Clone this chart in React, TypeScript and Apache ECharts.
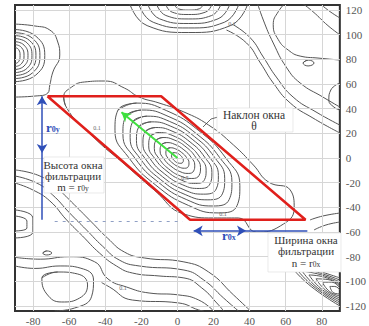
import React, { useEffect, useRef } from "react";
import * as echarts from "echarts";

const xTicks = [-80, -60, -40, -20, 0, 20, 40, 60, 80];
const yTicks = [-120, -100, -80, -60, -40, -20, 0, 20, 40, 60, 80, 100, 120];
const xRange = [-90, 90];
const yRange = [-124, 124];

// central nested contours (closed: last two points repeat the first two)
const ring1 = [[-3.0,3.5],[-1.9,4.3],[-0.3,4.0],[1.4,2.5],[2.7,0.4],[3.3,-1.8],[3.0,-3.5],[1.9,-4.3],[0.3,-4.0],[-1.4,-2.5],[-2.7,-0.4],[-3.3,1.8],[-3.0,3.5],[-1.9,4.3]];
const ring2 = [[-6.0,7.0],[-4.0,8.3],[-0.9,7.3],[2.4,4.4],[5.1,0.3],[6.4,-3.9],[6.0,-7.0],[4.0,-8.3],[0.9,-7.3],[-2.4,-4.4],[-5.1,-0.3],[-6.4,3.9],[-6.0,7.0],[-4.0,8.3]];
const ring3 = [[-9.0,10.5],[-6.0,12.5],[-1.4,11.0],[3.6,6.6],[7.6,0.5],[9.6,-5.8],[9.0,-10.5],[6.0,-12.5],[1.4,-11.0],[-3.6,-6.6],[-7.6,-0.5],[-9.6,5.8],[-9.0,10.5],[-6.0,12.5]];
const ring4 = [[-12.0,14.1],[-8.0,16.6],[-1.9,14.7],[4.8,8.9],[10.1,0.6],[12.8,-7.8],[12.0,-14.1],[8.0,-16.6],[1.9,-14.7],[-4.8,-8.9],[-10.1,-0.6],[-12.8,7.8],[-12.0,14.1],[-8.0,16.6]];
const ring5 = [[-15.0,17.6],[-10.1,20.6],[-2.5,18.1],[5.8,10.7],[12.5,0.5],[15.9,-9.9],[15.0,-17.6],[10.1,-20.6],[2.5,-18.1],[-5.8,-10.7],[-12.5,-0.5],[-15.9,9.9],[-15.0,17.6],[-10.1,20.6]];
const ring6 = [[-18.0,21.1],[-12.1,24.7],[-3.0,21.8],[7.0,13.0],[15.1,0.7],[19.1,-11.8],[18.0,-21.1],[12.1,-24.7],[3.0,-21.8],[-7.0,-13.0],[-15.1,-0.7],[-19.1,11.8],[-18.0,21.1],[-12.1,24.7]];
const ring7 = [[-21.5,25.1],[-14.5,29.3],[-3.6,25.7],[8.2,15.2],[17.8,0.6],[22.7,-14.2],[21.5,-25.1],[14.5,-29.3],[3.6,-25.7],[-8.2,-15.2],[-17.8,-0.6],[-22.7,14.2],[-21.5,25.1],[-14.5,29.3]];
const ring8 = [[-24.9,29.1],[-16.9,33.9],[-4.3,29.6],[9.4,17.4],[20.6,0.5],[26.2,-16.5],[24.9,-29.1],[16.9,-33.9],[4.3,-29.6],[-9.4,-17.4],[-20.6,-0.5],[-26.2,16.5],[-24.9,29.1],[-16.9,33.9]];
const ring9 = [[-28.7,33.6],[-19.6,38.9],[-5.2,33.8],[10.6,19.6],[23.5,0.2],[30.2,-19.3],[28.7,-33.6],[19.6,-38.9],[5.2,-33.8],[-10.6,-19.6],[-23.5,-0.2],[-30.2,19.3],[-28.7,33.6],[-19.6,38.9]];
const ring10 = [[-33.0,38.7],[-22.6,44.5],[-6.2,38.5],[11.9,22.1],[26.9,-0.2],[34.6,-22.4],[33.0,-38.7],[22.6,-44.5],[6.2,-38.5],[-11.9,-22.1],[-26.9,0.2],[-34.6,22.4],[-33.0,38.7],[-22.6,44.5]];
const outer01 = [[-61.9,42.1],[-63.0,49.4],[-58.6,57.5],[-51.5,61.6],[-40.5,62.4],[-29.4,56.7],[-21.2,49.4],[-10.2,44.6],[3.6,37.3],[17.3,26.7],[31.1,10.5],[42.1,-5.7],[50.4,-19.4],[62.5,-25.9],[64.7,-40.5],[57.0,-55.1],[43.8,-60.0],[33.8,-48.6],[20.1,-48.6],[3.6,-45.4],[-12.9,-25.9],[-29.4,-4.9],[-46.0,16.2],[-61.9,42.1],[-63.0,49.4]];

// upper-left nest
const topLeft1 = [[-90,89.5],[-88.0,87.9],[-87.2,83],[-88.0,78.1],[-90,76.5]];
const topLeft2 = [[-90,91.9],[-86.5,89.7],[-85.0,83],[-86.5,76.3],[-90,74.1]];
const topLeft3 = [[-90,94.3],[-85.0,91.5],[-82.8,83],[-85.0,74.5],[-90,71.7]];
const topLeft4 = [[-90,96.8],[-83.4,93.4],[-80.6,83],[-83.4,72.6],[-90,69.2]];
const topLeft5 = [[-90,99.2],[-81.9,95.2],[-78.4,83],[-81.9,70.8],[-90,66.8]];
const topLeft6 = [[-90,101.6],[-80.3,97.0],[-76.2,83],[-80.3,69.0],[-90,64.4]];
const topLeft7 = [[-90,104.1],[-78.5,98.8],[-73.5,83],[-78.5,67.2],[-90,61.9]];
const topLeftOuter = [[-90,108.5],[-79.0,107.0],[-70.7,103.7],[-66.3,94.0],[-65.2,83.5],[-69.0,69.7],[-70.7,59.2],[-71.8,52.7],[-79.0,50.2],[-90,49.4]];

// top-centre nest
const bowl0 = [[-2.0,126],[0.5,120.9],[6.3,119.9],[12.1,120.9],[14.6,126]];
const bowl1 = [[-6.9,126],[-2.9,118.2],[6.3,116.3],[15.5,118.2],[19.5,126]];
const bowl2 = [[-11.9,126],[-6.4,115.5],[6.3,112.7],[19.0,115.5],[24.5,126]];
const bowl3 = [[-16.8,126],[-9.9,112.8],[6.3,109.0],[22.5,112.8],[29.4,126]];
const bowl4 = [[-21.8,126],[-13.4,110.0],[6.3,105.4],[26.0,110.0],[34.4,126]];
const bowl5 = [[-26.7,126],[-16.8,107.3],[6.3,101.7],[29.4,107.3],[39.3,126]];

// upper-right band
const bandA = [[31.1,107.8],[40.5,97.2],[47.6,81.8],[54.8,65.6],[64.1,49.4],[76.8,37.3],[90,26.7]];
const bandB = [[27.2,103.7],[38.3,93.2],[46.0,77.0],[53.1,60.8],[62.5,44.6],[75.1,32.4],[90,20.3]];
const bandC = [[43.8,128],[47.6,111.8],[53.1,93.2],[60.3,73.7],[68.0,60.8],[80.6,49.4],[90,41.3]];
const tongue = [[61.4,128],[55.9,118.6],[53.1,108.1],[55.9,95.9],[61.4,87.5],[68.0,82.6],[77.9,81.0],[90,79.4]];
const bandE = [[66.9,128],[75.1,118.6],[83.4,107.3],[90,99.9]];
const bandF = [[76.8,128],[83.4,119.9],[90,113.5]];
const islet = [[69.6,77.0],[72.4,79.4],[75.7,77.0],[72.4,74.6],[69.6,77.0],[72.4,79.4]];
const rightLobe = [[90,60.8],[85.0,55.1],[83.9,47.0],[86.7,41.3],[90,38.9]];

// lower-right fan
const fan0 = [[90,-107.0],[87.2,-104.1],[84.5,-104.1],[86.7,-109.4],[90,-110.2]];
const fan1 = [[90,-105.3],[85.3,-100.6],[80.6,-101.1],[84.4,-108.3],[90,-111.8]];
const fan2 = [[90,-103.7],[83.4,-98.5],[76.8,-97.9],[82.1,-107.1],[90,-113.5]];
const fan3 = [[90,-102.1],[81.5,-96.6],[72.9,-94.8],[79.7,-106.0],[90,-115.1]];
const fan4 = [[90,-100.5],[79.5,-94.6],[69.1,-91.7],[77.4,-104.9],[90,-116.7]];
const fan5 = [[90,-98.9],[77.6,-92.6],[65.2,-88.6],[75.1,-103.7],[90,-118.3]];
const fan6 = [[90,-97.2],[75.7,-90.6],[61.4,-85.4],[72.8,-102.6],[90,-119.9]];
const sideG1 = [[73.5,-50.2],[80.6,-47.0],[90,-44.6]];
const sideG2 = [[75.7,-58.3],[82.3,-54.3],[90,-51.9]];

// lower-left band and basin
const band0 = [[-90,-9.7],[-76.2,-14.6],[-66.9,-24.3],[-57.0,-38.1],[-47.6,-51.9],[-38.8,-64.8],[-29.4,-76.2],[-18.4,-81.0],[3.6,-84.2],[17.3,-92.4],[31.1,-111.0],[40.5,-124]];
const band1 = [[-90,-14.6],[-77.9,-20.3],[-69.1,-30.0],[-59.7,-44.6],[-50.4,-58.3],[-41.6,-71.3],[-32.2,-82.7],[-21.2,-87.5],[3.6,-90.8],[14.6,-98.9],[25.6,-113.5],[33.8,-124]];
const band2 = [[-90,-20.3],[-80.1,-25.9],[-70.7,-34.8],[-61.4,-50.2],[-52.6,-63.2],[-43.2,-77.0],[-33.8,-87.5],[-25.0,-93.2],[-10.2,-95.6],[3.6,-97.2],[13.5,-105.3],[22.8,-119.1],[25.6,-124]];
const leftLobe1 = [[-90,-47.0],[-83.4,-51.1],[-83.4,-56.7],[-90,-59.1]];
const leftLobe2 = [[-90,-42.1],[-80.1,-48.6],[-80.1,-60.0],[-90,-64.8]];
const tinyLoop = [[-74.6,-77.0],[-72.4,-75.3],[-69.6,-77.0],[-72.4,-78.6],[-74.6,-77.0],[-72.4,-75.3]];
const basinU1 = [[-75.1,-97.2],[-66.3,-92.4],[-55.3,-94.0],[-49.8,-102.9],[-54.2,-113.5],[-64.1,-116.7],[-72.4,-110.2],[-75.1,-97.2],[-66.3,-92.4]];
const basinU2 = [[-90,-87.5],[-79,-89.5],[-65,-87.5],[-52,-90],[-46.5,-99],[-47.5,-112],[-57,-121.6],[-68,-124]];
const valleyM1 = [[-90,-80.5],[-76,-82],[-60,-80],[-46,-84],[-38.5,-98],[-28.3,-104.5],[-15.7,-109.4],[0.8,-111.0],[11.8,-115.1],[20.1,-124]];
const valleyM2 = [[-42,-101],[-37.7,-104.5],[-25.0,-115.1],[0.8,-117.5],[11.8,-123.2],[14.6,-124]];

const contours = [
  ring1, ring2, ring3, ring4, ring5, ring6, ring7, ring8, ring9, ring10, outer01,
  topLeft1, topLeft2, topLeft3, topLeft4, topLeft5, topLeft6, topLeft7, topLeftOuter,
  bowl0, bowl1, bowl2, bowl3, bowl4, bowl5,
  bandA, bandB, bandC, tongue, bandE, bandF, islet, rightLobe,
  fan0, fan1, fan2, fan3, fan4, fan5, fan6, sideG1, sideG2,
  band0, band1, band2, leftLobe1, leftLobe2, tinyLoop, basinU1, basinU2, valleyM1, valleyM2,
];

// filter window and its annotations
const windowShape = [[-72,50],[-9,50],[71,-50],[7,-50],[-72,50]];
const tiltArrow = [[0,0],[-31,37]];
const heightArrow = [[-75,4],[-75,50]];
const heightLine = [[-75,4],[-75,-50]];
const widthArrow = [[9,-59],[38,-59]];
const widthLine = [[38,-59],[72,-59]];
const baseLine = [[-68,-51],[3,-51]];

const SERIF = "'Liberation Serif', 'Times New Roman', serif";
const BLUE = "#2f4fb8";

export default function App() {
  const ref = useRef<HTMLDivElement>(null);
  useEffect(() => {
    const chart = echarts.init(ref.current!, null, { renderer: "svg" });
    const gridLine = { color: "#d6d6d6", width: 1, type: "solid" };
    const seg = (pts: number[][], color: string, width: number, s0: string, s1: string, type: any = "solid") => [
      { coord: pts[0], symbol: s0, symbolSize: [8, 9], lineStyle: { color, width, type } },
      { coord: pts[1], symbol: s1, symbolSize: [8, 9], lineStyle: { color, width, type } },
    ];
    const series: any[] = contours.map((d, i) => ({
      type: "line",
      data: d,
      smooth: 0.5,
      symbol: "none",
      silent: true,
      z: 2,
      lineStyle: { color: "#555", width: 1 },
      markLine: i === 0 ? {
        silent: true,
        symbol: ["none", "none"],
        label: { show: false },
        lineStyle: gridLine,
        data: [
          ...xTicks.map((v) => ({ xAxis: v })),
          ...yTicks.map((v) => ({ yAxis: v })),
        ],
      } : undefined,
    }));
    series.push({
      type: "line",
      data: windowShape,
      symbol: "none",
      silent: true,
      z: 5,
      lineStyle: { color: "#e0201c", width: 2.5 },
      markLine: {
        silent: true,
        label: { show: false },
        data: [
          seg(tiltArrow, "#3ee03e", 2, "none", "arrow"),
          seg(heightArrow, BLUE, 1.5, "arrow", "arrow"),
          seg(heightLine, BLUE, 1.5, "none", "none"),
          seg(widthArrow, BLUE, 1.5, "arrow", "arrow"),
          seg(widthLine, BLUE, 1.5, "none", "none"),
          seg(baseLine, "#8f9fc4", 1, "none", "none", [3, 5]),
        ],
      },
    });

    const txt = { fontFamily: SERIF, fontSize: 11, fill: "#333" };
    const box = (x: number, y: number, w: number, h: number) => ({
      type: "rect", z: 10, shape: { x, y, width: w, height: h },
      style: { fill: "#fff", stroke: "#dcdcdc", lineWidth: 0.6 },
    });
    const small = (x: number, y: number, t: string) => ({
      type: "text", z: 11, x, y,
      style: { text: t, fontFamily: SERIF, fontSize: 6, fill: "#666", align: "center", verticalAlign: "middle" },
    });
    const sub = { fontFamily: SERIF, fontSize: 7.5, fill: "#333", verticalAlign: "bottom" };
    const rr = { fontFamily: SERIF, fontSize: 13, fontWeight: "bold", fill: BLUE };
    const rs = { fontFamily: SERIF, fontSize: 8, fontWeight: "bold", fill: BLUE, verticalAlign: "bottom" };

    chart.setOption({
      animation: false,
      backgroundColor: "#fff",
      textStyle: { fontFamily: SERIF },
      grid: { left: 15, right: 27, top: 5, bottom: 15, show: true, borderColor: "#333", borderWidth: 2, backgroundColor: "transparent" },
      xAxis: {
        type: "value", min: xRange[0], max: xRange[1], interval: 10,
        axisLine: { show: false }, axisTick: { show: false }, splitLine: { show: false },
        axisLabel: {
          margin: 4, color: "#555", fontFamily: SERIF, fontSize: 11,
          formatter: (v: number) => (Math.round(v) % 20 === 0 ? String(Math.round(v)) : ""),
        },
      },
      yAxis: {
        type: "value", position: "right", min: yRange[0], max: yRange[1], interval: 4,
        axisLine: { show: false }, axisTick: { show: false }, splitLine: { show: false },
        axisLabel: {
          margin: 6, color: "#555", fontFamily: SERIF, fontSize: 11,
          formatter: (v: number) => (Math.round(v) % 20 === 0 ? String(Math.round(v)) : ""),
        },
      },
      series,
      graphic: [
        box(44, 157, 60, 36),
        box(217, 108, 76, 24),
        box(268, 233, 73, 39),
        { type: "polyline", z: 9, shape: { points: [[218, 117], [211, 119], [203, 127]] }, style: { stroke: "#444", lineWidth: 0.8, fill: null } },
        {
          type: "text", z: 11, x: 73, y: 159,
          style: { ...txt, text: "Высота окна\nфильтрации\nm = r{s|0y}", align: "center", verticalAlign: "top", lineHeight: 11, rich: { s: sub } },
        },
        {
          type: "text", z: 11, x: 254, y: 109,
          style: { ...txt, fontSize: 11.5, text: "Наклон окна\nθ", align: "center", verticalAlign: "top", lineHeight: 11 },
        },
        {
          type: "text", z: 11, x: 306, y: 234,
          style: { ...txt, text: "Ширина окна\nфильтрации\nn = r{s|0x}", align: "center", verticalAlign: "top", lineHeight: 11.5, rich: { s: sub } },
        },
        {
          type: "text", z: 11, x: 46, y: 127,
          style: { text: "{r|r}{s|0y}", align: "left", verticalAlign: "middle", rich: { r: rr, s: rs } },
        },
        {
          type: "text", z: 11, x: 222, y: 235,
          style: { text: "{r|r}{s|0x}", align: "left", verticalAlign: "middle", rich: { r: rr, s: rs } },
        },
        small(232, 24, "0.1"),
        small(97, 128, "0.1"),
        small(223, 214, "0.1"),
        small(123, 288, "0.1"),
        small(185, 178, "0.5"),
      ],
    });
    return () => chart.dispose();
  }, []);
  return <div ref={ref} style={{ position: "fixed", left: 0, top: 0, width: 369, height: 326, background: "#fff" }} />;
}
